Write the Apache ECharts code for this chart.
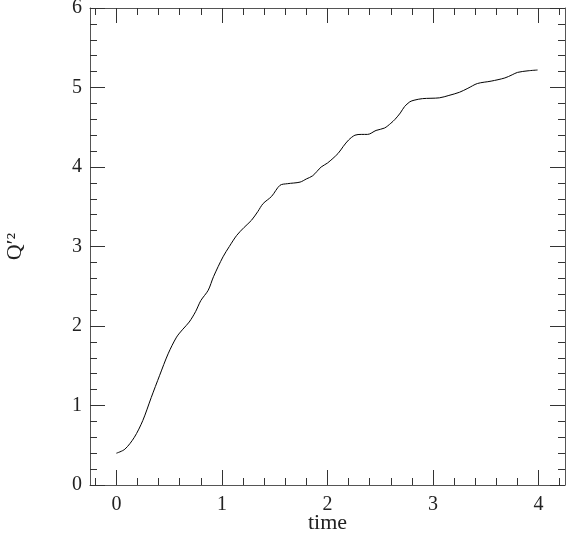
<!DOCTYPE html>
<html>
<head>
<meta charset="utf-8">
<script src="https://cdn.jsdelivr.net/npm/echarts@6/dist/echarts.min.js"></script>
<style>
  html, body { margin: 0; padding: 0; background: #fff; }
  #chart { width: 566px; height: 535px; }
</style>
</head>
<body>
<div id="chart"></div>
<script>
// Q'^2 against time
var times = [0, 0.08, 0.17, 0.25, 0.33, 0.41, 0.49, 0.57, 0.63, 0.69, 0.75, 0.80, 0.87, 0.92,
	1.01, 1.07, 1.14, 1.21, 1.28, 1.34, 1.39, 1.47, 1.55, 1.62, 1.74, 1.80, 1.86, 1.94,
	2.00, 2.10, 2.15, 2.20, 2.26, 2.32, 2.38, 2.46, 2.54, 2.60, 2.64, 2.69, 2.73, 2.78,
	2.82, 2.90, 3.06, 3.15, 3.25, 3.33, 3.42, 3.55, 3.68, 3.75, 3.80, 3.90, 3.99];
var qvals = [0.40, 0.45, 0.60, 0.81, 1.10, 1.38, 1.65, 1.86, 1.96, 2.05, 2.18, 2.32, 2.45, 2.62,
	2.87, 3.00, 3.14, 3.24, 3.33, 3.44, 3.54, 3.63, 3.77, 3.79, 3.81, 3.85, 3.89, 4.00,
	4.05, 4.17, 4.26, 4.34, 4.40, 4.41, 4.41, 4.46, 4.49, 4.55, 4.60, 4.68, 4.76, 4.82,
	4.84, 4.86, 4.87, 4.90, 4.94, 4.99, 5.05, 5.08, 5.12, 5.16, 5.19, 5.21, 5.22];

// tick labels / positions
var xMajor = [0, 1, 2, 3, 4];
var xMinor = [-0.2, 0.2, 0.4, 0.6, 0.8, 1.2, 1.4, 1.6, 1.8, 2.2, 2.4, 2.6, 2.8,
	3.2, 3.4, 3.6, 3.8, 4.2];

var points = [];
for (var i = 0; i < times.length; i++) {
	points.push([times[i], qvals[i]]);
}

var font = 'Liberation Serif';
var lineCol = '#555';
var tickCol = '#333';

function xAxis(pos, ticks, len, withLine, withLabel) {
	return {
		type: 'value', position: pos, min: -0.25, max: 4.25,
		gridIndex: 0,
		name: withLabel ? 'time' : '',
		nameLocation: 'middle', nameGap: 27, nameMoveOverlap: false,
		nameTextStyle: { fontFamily: font, fontSize: 22, color: '#222' },
		axisLine: { show: withLine, onZero: false, lineStyle: { color: lineCol, width: 1 } },
		axisTick: { show: true, inside: true, length: len, customValues: ticks,
			lineStyle: { color: tickCol, width: 1 } },
		axisLabel: { show: withLabel, customValues: xMajor, margin: 10,
			fontFamily: font, fontSize: 20, color: '#222' },
		splitLine: { show: false }
	};
}

function yAxis(pos, withLabel) {
	return {
		type: 'value', position: pos, min: 0, max: 6, interval: 1,
		name: withLabel ? 'Q\u2032\u00b2' : '',
		nameLocation: 'middle', nameGap: 64, nameMoveOverlap: false,
		nameTextStyle: { fontFamily: font, fontSize: 22, color: '#222' },
		axisLine: { show: true, onZero: false, lineStyle: { color: lineCol, width: 1 } },
		axisTick: { show: true, inside: true, length: 15, lineStyle: { color: tickCol, width: 1 } },
		minorTick: { show: true, splitNumber: 5, length: 7, lineStyle: { color: tickCol, width: 1 } },
		axisLabel: { show: withLabel, margin: 8, fontFamily: font, fontSize: 20, color: '#222' },
		splitLine: { show: false }
	};
}

var chart = echarts.init(document.getElementById('chart'));
chart.setOption({
	backgroundColor: '#fff',
	animation: false,
	grid: { left: 90, right: 1, top: 8, bottom: 50, containLabel: false, outerBoundsMode: 'none' },
	xAxis: [
		xAxis('bottom', xMajor, 15, true, true),
		xAxis('bottom', xMinor, 7, false, false),
		xAxis('top', xMajor, 15, true, false),
		xAxis('top', xMinor, 7, false, false)
	],
	yAxis: [
		yAxis('left', true),
		yAxis('right', false)
	],
	series: [{
		type: 'line',
		data: points,
		smooth: 0.3,
		showSymbol: false,
		lineStyle: { color: '#000', width: 1 }
	}]
});
</script>
</body>
</html>
